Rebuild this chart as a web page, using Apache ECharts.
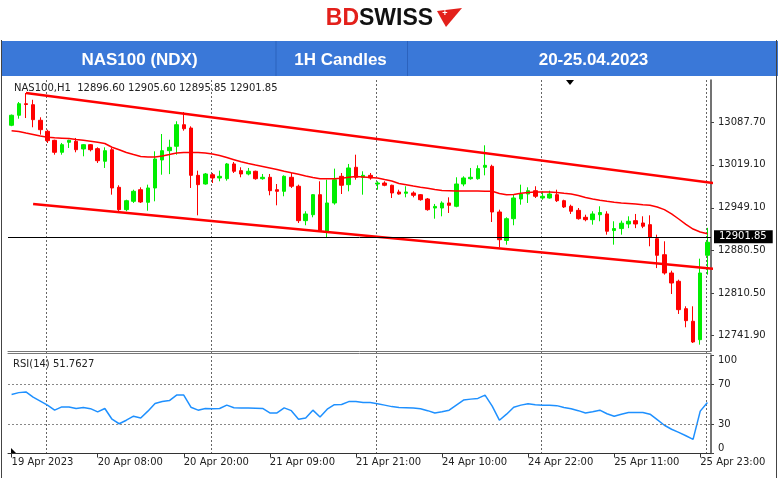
<!DOCTYPE html>
<html><head><meta charset="utf-8">
<script src="https://cdn.jsdelivr.net/npm/echarts@6/dist/echarts.min.js"></script>
<style>html,body{margin:0;padding:0;background:#fff}#c{width:780px;height:478px}</style>
</head><body><div id="c"></div>
<script>
// ---- data ----
const opens = [13083.5,13099.8,13118.6,13117.0,13091.6,13073.7,13059.0,13039.5,13055.8,13057.4,
13044.9,13051.9,13045.4,13024.9,13043.7,12982.5,12946.1,12959.7,12978.6,12958.1,
12981.4,13027.0,13042.1,13049.3,13084.4,13079.0,13002.0,12987.9,13003.0,12997.7,
12996.5,13020.5,13009.6,13004.2,13008.6,12996.5,12998.8,12978.6,12976.0,12998.8,
12984.2,12928.2,12937.9,12970.5,12910.9,12957.0,13000.4,12986.8,13015.1,12998.8,
13002.0,12987.9,12989.5,12985.8,12974.9,12972.8,12973.3,12970.5,12963.5,12948.8,
12948.8,12957.0,12951.6,12987.9,12996.5,12996.5,13015.1,13016.7,12942.3,12896.0,
12931.4,12963.5,12971.6,12977.0,12965.1,12965.1,12970.5,12960.7,12951.6,12945.0,
12933.7,12929.8,12937.9,12939.1,12912.1,12915.3,12922.8,12928.2,12924.4,12921.7,
12898.8,12872.8,12843.0,12829.5,12784.9,12764.4,12734.4,12871.8];
const closes = [13099.8,13118.6,13117.3,13092.6,13076.3,13058.4,13039.5,13051.9,13059.0,13043.7,
13051.9,13043.7,13025.8,13042.1,12981.4,12946.1,12960.7,12976.0,12958.6,12981.4,
13028.6,13042.1,13047.6,13084.4,13077.9,13002.0,12986.8,13004.2,12997.7,13000.4,
13020.5,13008.6,13004.2,13008.6,12996.5,12998.8,12977.0,12976.0,13000.4,12984.2,
12928.2,12939.1,12970.5,12911.9,12957.0,12994.9,12985.8,13014.0,12998.8,13002.0,
12997.7,12989.5,12985.8,12973.3,12971.6,12974.9,12969.5,12962.3,12946.1,12951.4,
12956.9,12953.2,12987.9,12997.7,12998.8,13012.9,13018.3,12942.3,12897.2,12931.4,
12965.1,12971.6,12977.0,12967.9,12967.9,12971.6,12960.7,12950.5,12943.5,12931.4,
12929.8,12939.1,12941.5,12911.0,12915.3,12924.1,12927.2,12922.8,12919.1,12901.1,
12871.8,12843.0,12826.7,12783.3,12765.4,12730.7,12843.0,12893.0];
const lows = [13082.0,13094.2,13095.3,13080.2,13068.2,13054.6,13035.6,13035.6,13046.5,13039.5,
13033.0,13041.0,13022.1,13014.0,12970.5,12940.7,12943.5,12957.0,12957.0,12944.4,
12959.7,13003.0,13004.0,13035.6,13074.7,12981.4,12936.9,12986.8,12989.5,12992.3,
12993.3,13005.8,12998.8,13002.0,12994.9,12994.9,12969.5,12953.2,12967.9,12981.4,
12924.4,12920.7,12933.7,12909.8,12900.0,12954.2,12971.6,12976.0,12994.9,12970.5,
12994.9,12978.6,12984.2,12965.1,12970.5,12966.2,12966.2,12960.7,12944.4,12931.4,
12935.3,12940.7,12950.0,12984.2,12994.9,12994.9,13002.0,12926.0,12884.9,12889.1,
12920.7,12954.2,12957.0,12965.1,12962.3,12964.0,12958.6,12948.8,12939.1,12929.8,
12927.2,12921.7,12927.2,12905.4,12889.1,12905.4,12916.0,12916.0,12916.0,12886.5,
12851.0,12840.3,12808.8,12776.3,12754.6,12729.0,12726.3,12840.3];
const highs = [13101.0,13121.4,13136.0,13125.0,13096.5,13076.3,13060.0,13054.7,13060.0,13062.8,
13053.0,13053.0,13047.6,13047.6,13046.5,12985.8,12962.3,12978.6,12982.5,12986.8,
13041.1,13069.3,13060.0,13090.0,13105.0,13081.8,13009.6,13005.8,13005.8,13009.6,
13022.1,13023.7,13015.1,13014.0,13009.6,13004.2,13004.2,12987.9,13002.0,13005.8,
12986.8,12943.5,12971.6,12992.3,12994.9,13012.9,13005.8,13020.5,13035.6,13008.6,
13005.8,12992.3,12992.3,12986.8,12978.6,12984.2,12976.0,12971.6,12965.1,12955.4,
12959.7,12966.2,12998.8,13000.4,13014.0,13018.3,13050.9,13019.3,12946.1,12933.7,
12971.6,12986.8,12982.5,12984.2,12976.0,12977.0,12978.6,12962.3,12954.2,12948.8,
12937.9,12943.5,12951.6,12943.5,12927.2,12928.2,12935.3,12939.1,12935.3,12936.9,
12905.4,12894.6,12846.8,12832.1,12788.8,12788.8,12866.3,12916.5];
const maValues = [13074.7,13073.4,13070.9,13068.5,13066.0,13063.9,13063.1,13062.5,13061.8,13060.3,
13059.0,13057.6,13055.8,13053.8,13047.7,13043.7,13039.2,13035.9,13032.7,13031.9,
13031.9,13033.5,13035.9,13038.4,13039.2,13039.2,13039.2,13038.4,13036.7,13034.3,
13031.0,13027.5,13024.0,13021.3,13018.8,13016.4,13014.0,13011.5,13008.6,13006.1,
13003.7,13000.9,12998.5,12996.5,12996.5,12996.5,12997.2,12998.8,13000.1,12999.3,
12998.5,12997.7,12995.2,12992.8,12988.7,12986.8,12984.6,12982.7,12980.9,12978.9,
12977.3,12977.0,12976.5,12976.5,12976.5,12976.5,12976.2,12976.0,12972.4,12970.5,
12970.8,12972.8,12974.1,12974.9,12974.9,12974.9,12974.1,12972.8,12971.6,12969.2,
12965.9,12963.5,12961.4,12959.7,12958.1,12957.0,12956.2,12955.3,12954.0,12953.2,
12950.5,12946.1,12939.1,12930.9,12922.0,12914.6,12909.8,12907.0];
const rsiValues = [60.0,61.8,62.5,57.2,53.2,49.1,44.0,47.3,47.3,45.7,
46.7,45.5,42.2,45.7,34.8,30.2,33.8,37.9,36.1,43.0,
50.8,52.7,53.7,59.3,59.3,47.0,44.0,45.7,45.5,45.7,
49.1,46.5,46.3,46.3,46.0,45.7,41.2,41.2,46.3,43.5,
34.8,36.1,44.0,37.1,45.0,49.6,49.8,52.7,52.7,51.8,
51.8,50.6,49.1,47.6,46.7,46.5,46.3,45.5,43.5,41.2,
42.4,44.0,49.1,54.2,55.2,55.9,59.3,48.1,33.8,39.9,
47.0,49.1,50.6,49.6,49.1,49.1,48.6,46.7,45.5,43.5,
41.2,42.4,44.0,40.4,37.9,39.9,41.6,41.6,41.6,39.9,
34.3,28.7,24.6,21.5,18.0,14.4,43.0,51.7627];
const tickLabels = ['19 Apr 2023','20 Apr 08:00','20 Apr 20:00','21 Apr 09:00','21 Apr 21:00','24 Apr 10:00','24 Apr 22:00','25 Apr 11:00','25 Apr 23:00'];
const priceTicks = [13087.70, 13019.10, 12949.10, 12880.50, 12810.50, 12741.90];
const rsiTicks = [100, 70, 30, 0];
const rsiLevels = [70, 30];
const upperChannel = [[2, 13136.05], [99, 12987.67]];
const lowerChannel = [[3, 12955.2], [99, 12848.5]];
const lastBar = [12896.60, 12905.60, 12895.85, 12901.85]; // O H L C
const rsiLast = 51.7627;
const titles = ['NAS100 (NDX)', '1H Candles', '20-25.04.2023'];

// ---- chart ----
const FONT = "'DejaVu Sans', sans-serif";
const cats = opens.map((_, i) => String(i));
const candles = opens.map((o, i) => [o, closes[i], lows[i], highs[i]]);
const GL = 8, GR = 69;

const chart = echarts.init(document.getElementById('c'), null, {renderer: 'canvas'});
chart.setOption({
  animation: false,
  backgroundColor: '#fff',
  grid: [
    {left: GL, right: GR, top: 80, bottom: 127},
    {left: GL, right: GR, top: 355, bottom: 24.5},
    {left: 46.7, right: 73.3, top: 80, bottom: 24.5}
  ],
  xAxis: [
    {gridIndex: 0, type: 'category', data: cats, boundaryGap: true,
     axisLine: {lineStyle: {color: '#777', width: 1}}, axisTick: {show: false}, axisLabel: {show: false}, splitLine: {show: false}},
    {gridIndex: 1, type: 'category', data: cats, boundaryGap: true,
     axisLine: {lineStyle: {color: '#333', width: 1}},
     axisTick: {show: true, interval: 11, alignWithLabel: true, length: 4, lineStyle: {color: '#333'}},
     axisLabel: {interval: 11, align: 'left', margin: 4, fontFamily: FONT, fontSize: 10, color: '#222',
       formatter: (v, idx) => (idx % 12 === 0 ? (tickLabels[idx / 12] || '') : '')},
     splitLine: {show: false}},
    {gridIndex: 2, type: 'value', min: 0, max: 4, interval: 1,
     axisLine: {show: false}, axisTick: {show: false}, axisLabel: {show: false},
     splitLine: {show: true, lineStyle: {color: '#666', type: [2, 2], width: 1}}},
    {gridIndex: 1, type: 'category', data: cats, position: 'top', offset: 1.5,
     axisLine: {lineStyle: {color: '#777', width: 1}}, axisTick: {show: false}, axisLabel: {show: false}}
  ],
  yAxis: [
    {gridIndex: 0, type: 'value', position: 'right', min: 12716.0, max: 13157.2, scale: true,
     axisLine: {show: true, lineStyle: {color: '#444', width: 1.5}},
     axisTick: {show: true, length: 3, customValues: priceTicks, lineStyle: {color: '#444'}},
     axisLabel: {customValues: priceTicks, margin: 7, fontFamily: FONT, fontSize: 10, color: '#222',
       formatter: v => v.toFixed(2)},
     splitLine: {show: false}},
    {gridIndex: 1, type: 'value', position: 'right', min: 0, max: 100,
     axisLine: {show: true, lineStyle: {color: '#444', width: 1.5}},
     axisTick: {show: true, length: 3, customValues: rsiTicks, lineStyle: {color: '#444'}},
     axisLabel: {customValues: rsiTicks, margin: 7, fontFamily: FONT, fontSize: 10, color: '#222',
       formatter: v => v === 100 ? '{t|100}' : (v === 0 ? '{b|0}' : String(v)),
       rich: {t: {padding: [11, 0, 0, 0], fontFamily: FONT, fontSize: 10, color: '#222'},
              b: {padding: [0, 0, 11, 0], fontFamily: FONT, fontSize: 10, color: '#222'}}},
     splitLine: {show: false}},
    {gridIndex: 2, type: 'value', min: 0, max: 1, show: false}
  ],
  series: [
    {type: 'line', xAxisIndex: 2, yAxisIndex: 2, data: [], silent: true},
    {type: 'candlestick', xAxisIndex: 0, yAxisIndex: 0, data: candles, barWidth: 4,
     itemStyle: {color: '#00ee00', color0: '#ff0000', borderColor: '#00ee00', borderColor0: '#ff0000', borderWidth: 1},
     markLine: {silent: true, symbol: ['none', 'none'], animation: false,
       lineStyle: {color: '#000', width: 1, type: 'solid'},
       label: {show: true, position: 'end', distance: 3, formatter: lastBar[3].toFixed(2),
         backgroundColor: '#000', color: '#fff', fontFamily: FONT, fontSize: 10, padding: [2, 6, 1, 5]},
       data: [{yAxis: lastBar[3]}]}},
    {type: 'line', xAxisIndex: 0, yAxisIndex: 0, data: maValues, symbol: 'none', silent: true,
     lineStyle: {color: '#ff0000', width: 1.5}},
    {type: 'line', xAxisIndex: 0, yAxisIndex: 0, data: upperChannel, symbol: 'none', silent: true, clip: true,
     lineStyle: {color: '#ff0000', width: 2.6}},
    {type: 'line', xAxisIndex: 0, yAxisIndex: 0, data: lowerChannel, symbol: 'none', silent: true, clip: true,
     lineStyle: {color: '#ff0000', width: 2.6}},
    {type: 'line', xAxisIndex: 1, yAxisIndex: 1, data: rsiValues, symbol: 'none', silent: true,
     lineStyle: {color: '#1e90ff', width: 1.5},
     markLine: {silent: true, symbol: ['none', 'none'], label: {show: false},
       lineStyle: {color: '#888', width: 1, type: [2, 2]},
       data: rsiLevels.map(v => ({yAxis: v}))}}
  ],
  graphic: [
    {type: 'rect', shape: {x: 1, y: 41, width: 777, height: 35}, style: {fill: '#3a78d8'}},
    {type: 'line', shape: {x1: 276, y1: 41, x2: 276, y2: 76}, style: {stroke: '#2b62bd', lineWidth: 1}},
    {type: 'line', shape: {x1: 407.5, y1: 41, x2: 407.5, y2: 76}, style: {stroke: '#2b62bd', lineWidth: 1}},
    {type: 'text', style: {text: titles[0], x: 139.5, y: 60, align: 'center', verticalAlign: 'middle', fill: '#fff', font: "bold 17px 'Liberation Sans', Arial, sans-serif"}},
    {type: 'text', style: {text: titles[1], x: 340.5, y: 60, align: 'center', verticalAlign: 'middle', fill: '#fff', font: "bold 17px 'Liberation Sans', Arial, sans-serif"}},
    {type: 'text', style: {text: titles[2], x: 593.5, y: 60, align: 'center', verticalAlign: 'middle', fill: '#fff', font: "bold 17px 'Liberation Sans', Arial, sans-serif"}},
    {type: 'text', style: {text: 'BD', x: 359, y: 19, align: 'right', verticalAlign: 'middle', fill: '#e3201b', font: "bold 23px 'Liberation Sans', Arial, sans-serif"}},
    {type: 'text', style: {text: 'SWISS', x: 359, y: 19, align: 'left', verticalAlign: 'middle', fill: '#111', font: "bold 23px 'Liberation Sans', Arial, sans-serif"}},
    {type: 'polygon', shape: {points: [[437, 11], [462, 8], [446, 27], [442, 20]]}, style: {fill: '#e3201b'}},
    {type: 'text', style: {text: '+', x: 445, y: 14, align: 'center', verticalAlign: 'middle', fill: '#fff', font: "bold 9px 'Liberation Sans', Arial, sans-serif"}},
    {type: 'text', style: {text: 'NAS100,H1  ' + lastBar.map(v => v.toFixed(2)).join(' '), x: 14, y: 88, verticalAlign: 'middle', fill: '#222', font: "10px 'DejaVu Sans', sans-serif"}},
    {type: 'text', style: {text: 'RSI(14) ' + rsiLast.toFixed(4), x: 13, y: 364, verticalAlign: 'middle', fill: '#222', font: "10px 'DejaVu Sans', sans-serif"}},
    {type: 'polygon', shape: {points: [[566, 80], [574, 80], [570, 85]]}, style: {fill: '#000'}},
    {type: 'polygon', shape: {points: [[11, 448], [11, 453], [16, 453]]}, style: {fill: '#000'}},
    {type: 'line', shape: {x1: 1.5, y1: 40, x2: 1.5, y2: 478}, style: {stroke: '#444', lineWidth: 1}},
    {type: 'line', shape: {x1: 776.5, y1: 40, x2: 776.5, y2: 478}, style: {stroke: '#444', lineWidth: 1}}
  ]
});
</script>
</body></html>
